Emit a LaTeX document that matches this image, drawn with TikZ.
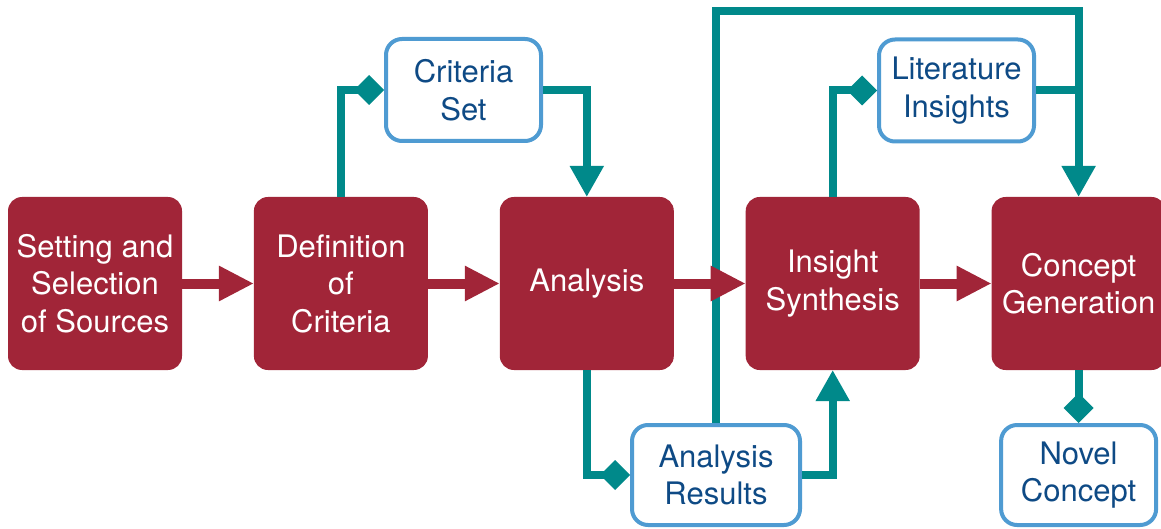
\documentclass[tikz,border=0pt]{standalone}
\usepackage{fontspec}
\setmainfont{TeX Gyre Heros}
\usetikzlibrary{arrows.meta}

\definecolor{stageRed}{RGB}{161,37,56}
\definecolor{linkTeal}{RGB}{0,137,138}
\definecolor{boxBlue}{RGB}{79,155,210}
\definecolor{textBlue}{RGB}{14,74,133}

\tikzset{
	stage/.style={fill=stageRed, text=white, rounded corners=14pt, minimum width=174pt, minimum height=173pt, align=center, inner sep=0pt, outer sep=0pt},
	result/.style={draw=boxBlue, line width=4pt, fill=white, text=textBlue, rounded corners=16pt, minimum width=155pt, minimum height=102pt, align=center, inner sep=0pt},
	flow/.style={draw=stageRed, line width=10pt, -{Triangle[length=35pt,width=33pt]}},
	link/.style={draw=linkTeal, line width=8pt},
	linkarrow/.style={link, -{Triangle[length=31pt,width=32pt]}},
	linkdiamond/.style={link, -{Diamond[length=30pt,width=30pt]}}
}

\begin{document}
\begin{tikzpicture}[x=1pt, y=-1pt, font=\fontsize{31}{37.5}\selectfont]
					\useasboundingbox (0,0) rectangle (1161,529);
					% stage labels
					\def\stages {{Setting and\\Selection\\of Sources},{Definition\\of\\Criteria},{Analysis},{Insight\\Synthesis},{Concept\\Generation}};
					% spacing
					\def\stageStep {245.9};
					\def\stageRow {283.5};
					% main stages
					\foreach \label [count=\index] in \stages
					{
						\node[stage] (stage_\index) at (\index*\stageStep-150.9,\stageRow) {\label};
					}
					% intermediate results
					\node[result] (criteria_set) at (463.5,90) {Criteria\\Set};
					\node[result] (lit_insights) at (956.5,90.5) {Literature\\Insights};
					\node[result, minimum width=168pt, minimum height=100pt] (ana_results) at (716,475) {Analysis\\Results};
					\node[result, minimum height=100pt] (novel_concept) at (stage_5 |- ana_results) {Novel\\Concept};
					\coordinate (join) at (stage_5.north |- lit_insights.east);
					% result links
					\draw[linkdiamond] (stage_2.north) |- (criteria_set.west);
					\draw[linkarrow] (criteria_set.east) -| (stage_3.north);
					\draw[linkdiamond] (stage_3.south) |- (ana_results.west);
					\draw[linkarrow] (ana_results.east) -| (stage_4.south);
					\draw[linkdiamond] (stage_4.north) |- (lit_insights.west);
					\draw[linkarrow] (lit_insights.east) -| (stage_5.north);
					\draw[link] (ana_results.north) -- (ana_results.north |- 0,11) -| (join);
					\draw[linkdiamond] (stage_5.south) -- (novel_concept.north);
					% stage flow
					\foreach \current in {1,...,4}
					{
						\pgfmathtruncatemacro{\next}{\current+1};
						\draw[flow] (stage_\current) -- (stage_\next);
					}
				\end{tikzpicture}
\end{document}
